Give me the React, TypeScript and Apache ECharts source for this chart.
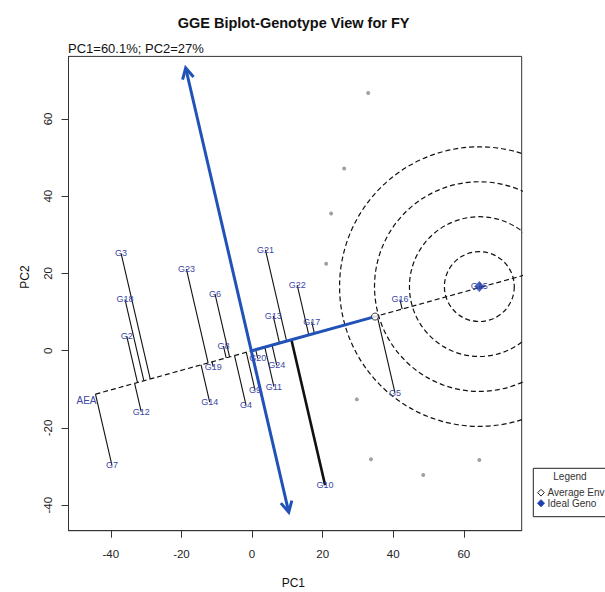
import React, { useEffect, useRef } from 'react';
import * as echarts from 'echarts';

// ---- data ----
const genotypes = ['G2', 'G3', 'G4', 'G5', 'G6', 'G7', 'G8', 'G9', 'G10', 'G11', 'G12', 'G13', 'G14', 'G15', 'G16', 'G17', 'G18', 'G19', 'G20', 'G21', 'G22', 'G23', 'G24'];
const genoPC1 = [-35.5, -37.1, -1.7, 40.5, -10.5, -39.7, -8.1, 0.85, 20.7, 6.2, -31.4, 6.0, -12.0, 64.4, 41.9, 16.9, -36.0, -11.0, 1.6, 3.8, 12.8, -18.6, 7.0];
const genoPC2 = [3.8, 25.2, -14.1, -10.9, 14.7, -29.6, 1.2, -10.2, -34.8, -9.3, -15.8, 9.0, -13.3, 16.8, 13.3, 7.5, 13.3, -4.2, -2.0, 26.1, 17.0, 21.1, -3.8];
const envPC1 = [32.9, 26.1, 22.4, 21.0, 29.7, 33.7, 48.5, 64.4];
const envPC2 = [66.7, 47.2, 35.5, 22.5, -12.6, -28.1, -32.2, -28.3];
const idealGeno = [64.4, 16.6];
const circleRadii = [9.9, 19.8, 29.7, 39.6];
const arrowTop = [-18.8, 73.2];
const arrowBottom = [10.4, -41.8];
const xTicks = [-40, -20, 0, 20, 40, 60];
const yTicks = [-40, -20, 0, 20, 40, 60];
const boldGenotype = 'G10';

const FONT = 'Liberation Sans, Arial, Helvetica, sans-serif';
const BLUE = '#2152b8';
const LABEL = '#3b47a3';

export default function App() {
  const ref = useRef<HTMLDivElement>(null);

  useEffect(() => {
    if (!ref.current) return;
    const chart = echarts.init(ref.current, undefined, { renderer: 'svg' });

    // average environment = mean of environment coordinates
    const avgX = envPC1.reduce((a, b) => a + b, 0) / envPC1.length;
    const avgY = envPC2.reduce((a, b) => a + b, 0) / envPC2.length;
    const len = Math.hypot(avgX, avgY);
    const ux = avgX / len;
    const uy = avgY / len;
    const proj = genotypes.map((_, i) => genoPC1[i] * ux + genoPC2[i] * uy);
    const tMin = Math.min(...proj);
    const lineData = genotypes.map((_, i) => [genoPC1[i], genoPC2[i], proj[i] * ux, proj[i] * uy]);
    const aeaStart = [tMin * ux, tMin * uy];
    const aeaEnd = [100 * ux, 100 * uy];

    const option: any = {
      animation: false,
      backgroundColor: '#fff',
      grid: {
        left: 68.5, top: 56.4, width: 453.2, height: 474.3,
        show: true, borderColor: '#333', borderWidth: 1, backgroundColor: 'transparent',
        outerBoundsMode: 'none',
      },
      xAxis: {
        type: 'value', min: -52, max: 76.4,
        splitLine: { show: false },
        axisLine: { show: true, onZero: false, lineStyle: { color: '#333' } },
        axisTick: { show: true, length: 7, inside: false, customValues: xTicks, lineStyle: { color: '#333' } },
        axisLabel: { customValues: xTicks, margin: 17, fontSize: 11.5, color: '#222', fontFamily: FONT },
      },
      yAxis: {
        type: 'value', min: -46.6, max: 76.2,
        splitLine: { show: false },
        axisLine: { show: true, onZero: false, lineStyle: { color: '#333' } },
        axisTick: { show: true, length: 7, inside: false, customValues: yTicks, lineStyle: { color: '#333' } },
        axisLabel: { customValues: yTicks, rotate: 90, margin: 14.5, fontSize: 11.5, color: '#222', fontFamily: FONT },
      },
      series: [
        {
          type: 'custom',
          clip: true,
          z: 2,
          data: circleRadii.map((r) => [idealGeno[0], idealGeno[1], r]),
          renderItem: (params: any, api: any) => {
            const c = api.coord([api.value(0), api.value(1)]);
            const r = api.size([api.value(2), 0])[0];
            return {
              type: 'circle',
              shape: { cx: c[0], cy: c[1], r },
              style: { fill: 'none', stroke: '#111', lineWidth: 1.2, lineDash: [5, 3] },
            };
          },
        },
        {
          type: 'line',
          z: 3,
          data: [aeaStart, aeaEnd],
          symbol: 'none',
          lineStyle: { color: '#111', width: 1.2, type: [5, 3] },
        },
        {
          type: 'custom',
          clip: true,
          z: 4,
          data: lineData,
          renderItem: (params: any, api: any) => {
            const p1 = api.coord([api.value(0), api.value(1)]);
            const p2 = api.coord([api.value(2), api.value(3)]);
            const bold = genotypes[params.dataIndex] === boldGenotype;
            return {
              type: 'line',
              shape: { x1: p1[0], y1: p1[1], x2: p2[0], y2: p2[1] },
              style: { stroke: '#111', lineWidth: bold ? 2.6 : 1.1 },
            };
          },
        },
        {
          type: 'line',
          z: 5,
          data: [[0, 0], [avgX, avgY]],
          symbol: 'none',
          lineStyle: { color: BLUE, width: 3 },
        },
        {
          type: 'custom',
          z: 5,
          data: [[arrowTop[0], arrowTop[1], arrowBottom[0], arrowBottom[1]]],
          renderItem: (params: any, api: any) => {
            const a = api.coord([api.value(0), api.value(1)]);
            const b = api.coord([api.value(2), api.value(3)]);
            const head = (tip: number[], from: number[]) => {
              const dx = tip[0] - from[0];
              const dy = tip[1] - from[1];
              const l = Math.hypot(dx, dy);
              const ex = dx / l, ey = dy / l;
              const L = 12, ang = (28 * Math.PI) / 180;
              const rot = (s: number) => [
                tip[0] - L * (ex * Math.cos(s * ang) - ey * Math.sin(s * ang)),
                tip[1] - L * (ex * Math.sin(s * ang) + ey * Math.cos(s * ang)),
              ];
              return {
                type: 'polyline',
                shape: { points: [rot(1), tip, rot(-1)] },
                style: { stroke: BLUE, lineWidth: 3, fill: 'none', lineJoin: 'miter' },
              };
            };
            return {
              type: 'group',
              children: [
                { type: 'line', shape: { x1: a[0], y1: a[1], x2: b[0], y2: b[1] }, style: { stroke: BLUE, lineWidth: 3 } },
                head(a, b),
                head(b, a),
              ],
            };
          },
        },
        {
          type: 'scatter',
          z: 6,
          data: envPC1.map((x, i) => [x, envPC2[i]]),
          symbol: 'circle',
          symbolSize: 4,
          itemStyle: { color: '#8a8a8a' },
        },
        {
          type: 'custom',
          z: 7,
          data: genotypes.map((n, i) => [genoPC1[i], genoPC2[i]]),
          renderItem: (params: any, api: any) => {
            const p = api.coord([api.value(0), api.value(1)]);
            return {
              type: 'text',
              x: p[0], y: p[1],
              style: {
                text: genotypes[params.dataIndex],
                fill: LABEL,
                font: `9px ${FONT}`,
                align: 'center',
                verticalAlign: 'middle',
              },
            };
          },
        },
        {
          type: 'custom',
          z: 7,
          data: [aeaStart],
          renderItem: (params: any, api: any) => {
            const p = api.coord([api.value(0), api.value(1)]);
            return {
              type: 'text',
              x: p[0] + 1, y: p[1] + 6,
              style: { text: 'AEA', fill: LABEL, font: `10px ${FONT}`, align: 'right', verticalAlign: 'middle' },
            };
          },
        },
        {
          type: 'scatter',
          z: 8,
          data: [[avgX, avgY]],
          symbol: 'circle',
          symbolSize: 7,
          itemStyle: { color: '#fff', borderColor: '#111', borderWidth: 1 },
        },
        {
          type: 'scatter',
          z: 8,
          data: [idealGeno],
          symbol: 'diamond',
          symbolSize: [10, 11],
          itemStyle: { color: '#1e3fae' },
        },
      ],
      graphic: [
        { type: 'text', x: 293.6, y: 23.2, style: { text: 'GGE Biplot-Genotype View for FY', font: `bold 14.5px ${FONT}`, fill: '#111', align: 'center', verticalAlign: 'middle' } },
        { type: 'text', x: 68, y: 48.3, style: { text: 'PC1=60.1%; PC2=27%', font: `13px ${FONT}`, fill: '#111', align: 'left', verticalAlign: 'middle' } },
        { type: 'text', x: 293.3, y: 583.3, style: { text: 'PC1', font: `12px ${FONT}`, fill: '#111', align: 'center', verticalAlign: 'middle' } },
        { type: 'text', x: 25, y: 277, rotation: Math.PI / 2, style: { text: 'PC2', font: `12px ${FONT}`, fill: '#111', align: 'center', verticalAlign: 'middle' } },
        {
          type: 'group',
          children: [
            { type: 'rect', shape: { x: 533.3, y: 468.3, width: 90, height: 48.4 }, style: { fill: '#fff', stroke: '#222', lineWidth: 1 } },
            { type: 'text', x: 570, y: 476.5, style: { text: 'Legend', font: `10px ${FONT}`, fill: '#333', align: 'center', verticalAlign: 'middle' } },
            { type: 'polygon', shape: { points: [[541, 489.3], [544.3, 492.7], [541, 496.1], [537.7, 492.7]] }, style: { fill: '#fff', stroke: '#222', lineWidth: 1 } },
            { type: 'text', x: 547.5, y: 492.7, style: { text: 'Average Env', font: `10px ${FONT}`, fill: '#333', align: 'left', verticalAlign: 'middle' } },
            { type: 'polygon', shape: { points: [[541, 499.6], [544.7, 503.3], [541, 507], [537.3, 503.3]] }, style: { fill: '#1e3fae', stroke: '#1e3fae', lineWidth: 0.5 } },
            { type: 'text', x: 547.5, y: 503.5, style: { text: 'Ideal Geno', font: `10px ${FONT}`, fill: '#333', align: 'left', verticalAlign: 'middle' } },
          ],
        },
      ],
    };

    chart.setOption(option);
    return () => chart.dispose();
  }, []);

  return <div ref={ref} style={{ position: 'fixed', left: 0, top: 0, width: 605, height: 592 }} />;
}
